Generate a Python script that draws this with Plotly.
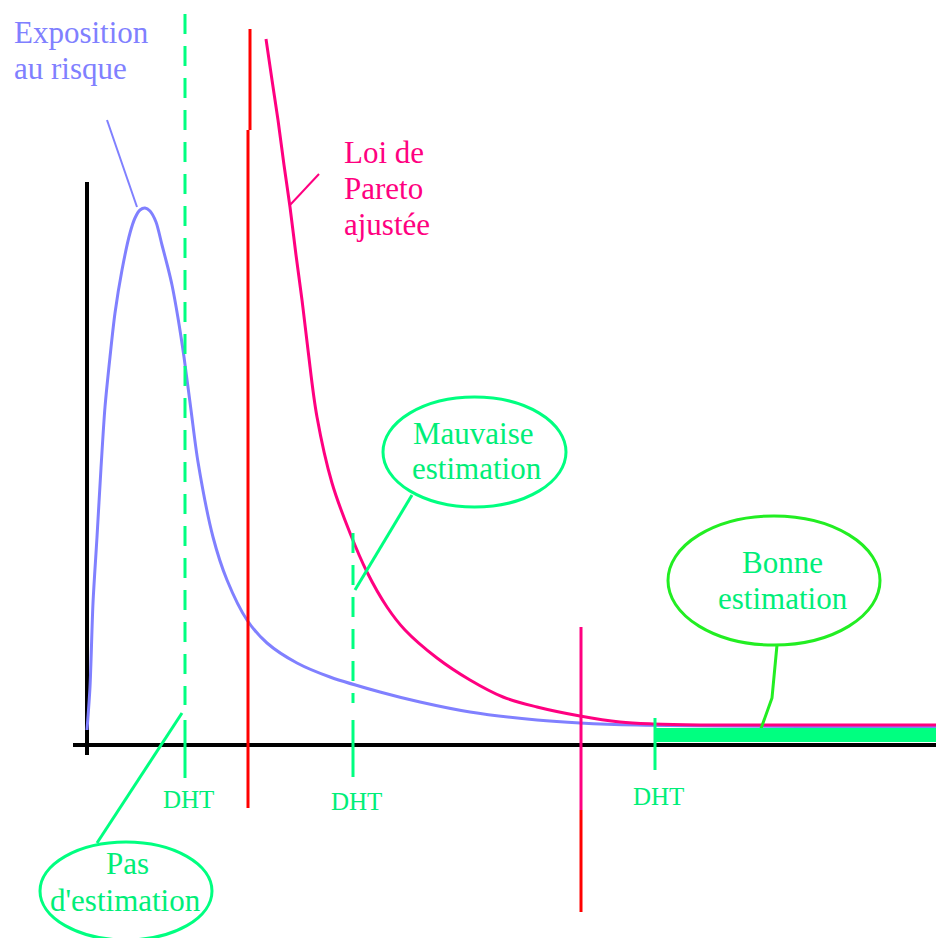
"""Schéma : exposition au risque vs loi de Pareto ajustée (seuils DHT)."""

import plotly.graph_objects as go

W, H = 936, 938

# courbe d'exposition au risque (coordonnées)
expo_x = [87, 90, 93, 97, 101, 105, 110, 115, 122, 130, 135, 140, 145, 150, 156, 162, 168,
          172, 178, 184, 191, 198, 213, 227, 247, 267, 297, 330, 380, 420, 470, 537, 580, 637, 936]
expo_y = [730, 687, 603, 537, 468, 407, 357, 313, 270, 233, 218, 210, 208, 211, 222, 245, 268,
          285, 318, 357, 410, 462, 537, 580, 620, 643, 663, 677, 692, 702, 712, 720, 723, 725, 727]

# loi de Pareto ajustée
pareto_x = [266, 272, 278, 284, 290, 296, 302, 308, 317, 332, 350, 367, 387, 405, 437,
            470, 503, 537, 580, 620, 653, 700, 936]
pareto_y = [39, 80, 120, 165, 207, 255, 300, 350, 417, 483, 533, 572, 607, 630, 658,
            680, 697, 707, 716, 722, 724, 725, 725]

# seuils DHT
dht_x = [185, 353, 655]
dht_dash_top = [14, 533, None]
dht_dash_bottom = [705, 703, None]
dht_tick_top = [720, 720, 718]
dht_tick_bottom = [778, 777, 770]
dht_label_y = [799, 801, 796]

# lignes verticales rouges
red_x = [250, 248, 581]
red_top = [29, 130, 810]
red_bottom = [130, 808, 912]
pink_bar = (581, 627, 810)

# zone "bonne estimation"
good_zone = dict(x0=655, x1=936, y0=728, y1=742)

# bulles : (x0, x1, y0, y1), couleur, lignes de texte
bubbles = [
    dict(box=(383, 566, 397, 507), color="#00ff80", lines=["Mauvaise", "estimation"],
         text_x=[473, 477], text_y=[433, 468], ptr_x=[412, 355], ptr_y=[495, 590]),
    dict(box=(668, 880, 516, 645), color="#22ee22", lines=["Bonne", "estimation"],
         text_x=[782, 783], text_y=[562, 598], ptr_x=[777, 772, 758], ptr_y=[645, 698, 737]),
    dict(box=(40, 212, 842, 940), color="#00ff80", lines=["Pas", "d'estimation"],
         text_x=[127, 125], text_y=[863, 900], ptr_x=[182, 97], ptr_y=[713, 843]),
]

BLUE = "#8080ff"
PINK = "#ff0080"
RED = "#ff0000"
GREEN = "#00ff80"
GREEN_TXT = "#00ee78"
FONT = "Liberation Serif"

fig = go.Figure()


def seg(fig, xs, ys, color, width=3, dash=None):
    fig.add_trace(go.Scatter(x=xs, y=ys, mode="lines", hoverinfo="skip",
                             line=dict(color=color, width=width, dash=dash)))


# zone verte
fig.add_shape(type="rect", xref="x", yref="y", line_width=0, fillcolor=GREEN, **good_zone)

# axes
seg(fig, [73, 936], [745, 745], "black", 4)
seg(fig, [87, 87], [182, 755], "black", 4)

# courbes
fig.add_trace(go.Scatter(x=expo_x, y=expo_y, mode="lines", hoverinfo="skip",
                         line=dict(color=BLUE, width=3, shape="spline", smoothing=0.8)))
fig.add_trace(go.Scatter(x=pareto_x, y=pareto_y, mode="lines", hoverinfo="skip",
                         line=dict(color=PINK, width=3, shape="spline", smoothing=1.0)))

# pointeurs des légendes
seg(fig, [107, 137], [120, 207], BLUE, 2)
seg(fig, [290, 319], [205, 174], PINK, 2)

# lignes rouges
for x, t, b in zip(red_x, red_top, red_bottom):
    seg(fig, [x, x], [t, b], RED, 3)
seg(fig, [pink_bar[0]] * 2, [pink_bar[1], pink_bar[2]], PINK, 3)

# DHT
for x, t, b, tt, tb, ly in zip(dht_x, dht_dash_top, dht_dash_bottom,
                               dht_tick_top, dht_tick_bottom, dht_label_y):
    if t is not None:
        seg(fig, [x, x], [t, b], GREEN, 3, dash="20px,12px")
    seg(fig, [x, x], [tt, tb], GREEN, 3)
    fig.add_annotation(x=x + 3, y=ly, text="DHT", showarrow=False, xref="x", yref="y",
                       font=dict(family=FONT, size=25, color=GREEN_TXT))

# bulles
for bub in bubbles:
    x0, x1, y0, y1 = bub["box"]
    fig.add_shape(type="circle", xref="x", yref="y", x0=x0, x1=x1, y0=y0, y1=y1,
                  line=dict(color=bub["color"], width=3))
    seg(fig, bub["ptr_x"], bub["ptr_y"], bub["color"], 3)
    for tx, ty, line in zip(bub["text_x"], bub["text_y"], bub["lines"]):
        fig.add_annotation(x=tx, y=ty, text=line, showarrow=False, xref="x", yref="y",
                           font=dict(family=FONT, size=31, color=GREEN_TXT))

# libellés des courbes
for txt, y in zip(["Exposition", "au risque"], [32, 68]):
    fig.add_annotation(x=12, y=y, text=txt, showarrow=False, xanchor="left",
                       xref="x", yref="y", font=dict(family=FONT, size=31, color=BLUE))
for txt, y in zip(["Loi de", "Pareto", "ajustée"], [152, 188, 224]):
    fig.add_annotation(x=342, y=y, text=txt, showarrow=False, xanchor="left",
                       xref="x", yref="y", font=dict(family=FONT, size=31, color=PINK))

fig.update_layout(
    width=W,
    height=H,
    margin=dict(l=0, r=0, t=0, b=0),
    showlegend=False,
    plot_bgcolor="white",
    paper_bgcolor="white",
    xaxis=dict(range=[0, W], visible=False, fixedrange=True),
    yaxis=dict(range=[H, 0], visible=False, fixedrange=True),
)

fig.write_html(
    "out.html",
    config={"displayModeBar": False},
    post_script="document.body.style.margin='0';document.body.style.overflow='hidden';",
)
